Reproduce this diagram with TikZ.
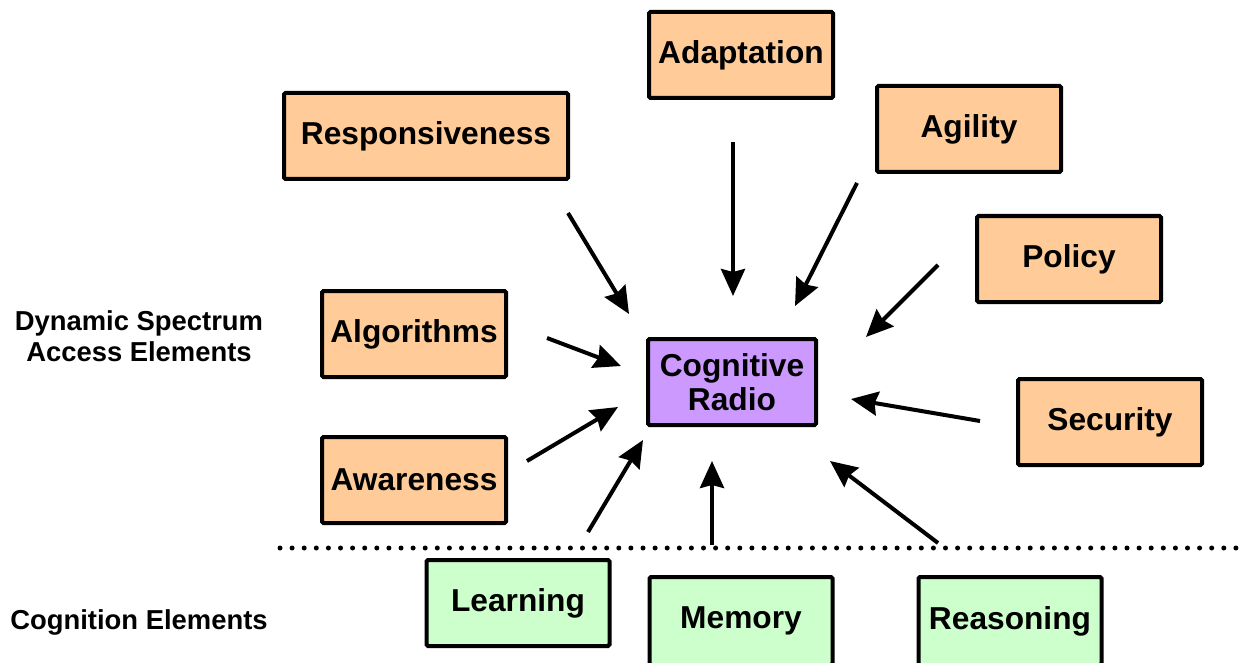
\documentclass[tikz,border=0pt]{standalone}
\usepackage{fontspec}
\setmainfont{Liberation Sans}
\usetikzlibrary{arrows.meta}
\definecolor{dsafill}{HTML}{FFCC99}
\definecolor{crfill}{HTML}{CC99FF}
\definecolor{cogfill}{HTML}{CCFFCC}
\tikzset{
  elem/.style={draw=black, line width=4pt, rounded corners=1.5pt, inner sep=0pt,
    minimum height=86pt, align=center,
    font=\fontsize{31.7}{37}\selectfont\bfseries},
  dsa/.style={elem, fill=dsafill, minimum width=184pt},
  core/.style={elem, fill=crfill, minimum width=168pt},
  cog/.style={elem, fill=cogfill, minimum width=183pt},
  grouplabel/.style={align=center, inner sep=0pt,
    font=\fontsize{27.4}{33}\selectfont\bfseries},
  arr/.style={line width=4pt, -{Stealth[length=27pt, width=24pt, inset=3pt]}},
  divider/.style={line width=5pt, line cap=round, dash pattern=on 0pt off 12.1pt}
}
\begin{document}
\begin{tikzpicture}[x=1pt, y=-1pt]
\clip (0,0) rectangle (1247,663);
\fill[white] (0,0) rectangle (1247,663);

% central concept
\node[core] (cr) at (732,382) {Cognitive\\[-3pt]Radio};

% dynamic spectrum access elements
\node[dsa] (adapt) at (741,55) {Adaptation};
\node[dsa, minimum width=284pt] (resp) at (426,136) {Responsiveness};
\node[dsa] (agil) at (969,129) {Agility};
\node[dsa] (pol) at (1069,259) {Policy};
\node[dsa] (algo) at (414,334) {Algorithms};
\node[dsa] (sec) at (1110,422) {Security};
\node[dsa] (aware) at (414,480) {Awareness};

% cognition elements
\node[cog] (learn) at (518,603) {Learning};
\node[cog, minimum height=88pt] (mem) at (741,621) {Memory};
\node[cog, minimum height=88pt] (reas) at (1010,621) {Reasoning};

% group labels
\node[grouplabel] (dsalabel) at (139,336) {Dynamic Spectrum\\[-2pt]Access Elements};
\node[grouplabel] (coglabel) at (139,622) {Cognition Elements};

% divider between the two groups
\coordinate (divL) at (280,548);
\coordinate (divR) at (1243,548);
\draw[divider] (divL) -- (divR);

% arrow end points around the central concept
\coordinate (respA) at (568,213);   \coordinate (respB) at (629,314);
\coordinate (adaptA) at (733,142);  \coordinate (adaptB) at (733,296);
\coordinate (agilA) at (857,183);   \coordinate (agilB) at (795,306);
\coordinate (polA) at (938,265);    \coordinate (polB) at (866,337);
\coordinate (algoA) at (547,338);   \coordinate (algoB) at (621,366);
\coordinate (secA) at (980,421);    \coordinate (secB) at (851,399);
\coordinate (awareA) at (527,461);  \coordinate (awareB) at (618,407);
\coordinate (learnA) at (588,532);  \coordinate (learnB) at (643,440);
\coordinate (memA) at (712,545);    \coordinate (memB) at (712,461);
\coordinate (reasA) at (938,543);   \coordinate (reasB) at (830,461);

\draw[arr] (respA) -- (respB);
\draw[arr] (adaptA) -- (adaptB);
\draw[arr] (agilA) -- (agilB);
\draw[arr] (polA) -- (polB);
\draw[arr] (algoA) -- (algoB);
\draw[arr] (secA) -- (secB);
\draw[arr] (awareA) -- (awareB);
\draw[arr] (learnA) -- (learnB);
\draw[arr] (memA) -- (memB);
\draw[arr] (reasA) -- (reasB);
\end{tikzpicture}
\end{document}
